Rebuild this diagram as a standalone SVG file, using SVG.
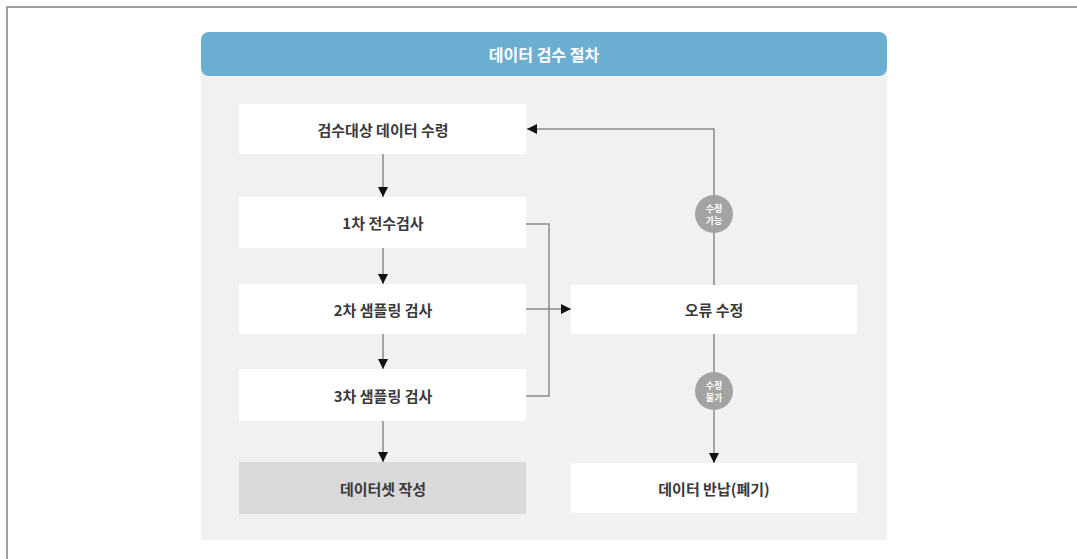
<svg xmlns="http://www.w3.org/2000/svg" width="1077" height="559" viewBox="0 0 1077 559">
<defs>
<marker id="ah" viewBox="0 0 10 10" refX="10" refY="5" markerWidth="10" markerHeight="10" markerUnits="userSpaceOnUse" orient="auto">
<path d="M0,0 L10,5 L0,10 z" fill="#111"/>
</marker>
</defs>
<style>
.box{fill:#ffffff;}
.boxg{fill:#d9d9d9;}
.lbl{font-family:"Noto Sans CJK KR","Noto Sans",sans-serif;font-size:15px;font-weight:bold;fill:#3a3a3a;text-anchor:middle;dominant-baseline:central;}
.ttl{font-family:"Noto Sans CJK KR","Noto Sans",sans-serif;font-size:16px;font-weight:bold;fill:#ffffff;text-anchor:middle;dominant-baseline:central;}
.ln{fill:none;stroke:#8a8a8a;stroke-width:1.5;}
.circ{fill:#a3a3a3;}
.ct{font-family:"Noto Sans CJK KR","Noto Sans",sans-serif;font-size:9px;font-weight:bold;fill:#ffffff;text-anchor:middle;dominant-baseline:central;}
</style>
<rect width="1077" height="559" fill="#ffffff"/>
<path d="M1078,7 L7,7 L7,560" fill="none" stroke="#a0a0a0" stroke-width="2"/>
<g id="panel">
<rect x="201" y="70" width="686" height="470" fill="#f1f1f1"/>
<rect x="201" y="32" width="686" height="44" rx="8" fill="#6aaed2"/>
<text class="ttl" x="544" y="54">데이터 검수 절차</text>
</g>
<g id="connectors">
<line class="ln" x1="383" y1="154" x2="383" y2="197" marker-end="url(#ah)"/>
<line class="ln" x1="383" y1="248" x2="383" y2="284" marker-end="url(#ah)"/>
<line class="ln" x1="383" y1="334" x2="383" y2="369" marker-end="url(#ah)"/>
<line class="ln" x1="383" y1="421" x2="383" y2="462" marker-end="url(#ah)"/>
<path class="ln" d="M526,224 L549,224 L549,396 L526,396"/>
<line class="ln" x1="526" y1="309" x2="571" y2="309" marker-end="url(#ah)"/>
<path class="ln" d="M714,285 L714,129 L527,129" marker-end="url(#ah)"/>
<line class="ln" x1="714" y1="334" x2="714" y2="463" marker-end="url(#ah)"/>
</g>
<g id="c1">
<circle class="circ" cx="714" cy="214" r="19"/>
<text class="ct" x="714" y="208">수정</text>
<text class="ct" x="714" y="220">가능</text>
</g>
<g id="c2">
<circle class="circ" cx="714" cy="391" r="19"/>
<text class="ct" x="714" y="385">수정</text>
<text class="ct" x="714" y="397">불가</text>
</g>
<g id="n1"><rect class="box" x="239" y="104" width="287" height="50"/><text class="lbl" x="383" y="129">검수대상 데이터 수령</text></g>
<g id="n2"><rect class="box" x="239" y="197" width="287" height="51"/><text class="lbl" x="383" y="222">1차 전수검사</text></g>
<g id="n3"><rect class="box" x="239" y="284" width="287" height="50"/><text class="lbl" x="383" y="309">2차 샘플링 검사</text></g>
<g id="n4"><rect class="box" x="239" y="369" width="287" height="52"/><text class="lbl" x="383" y="395">3차 샘플링 검사</text></g>
<g id="n5"><rect class="boxg" x="239" y="462" width="287" height="52"/><text class="lbl" x="383" y="488">데이터셋 작성</text></g>
<g id="n6"><rect class="box" x="571" y="285" width="286" height="49"/><text class="lbl" x="714" y="309">오류 수정</text></g>
<g id="n7"><rect class="box" x="571" y="463" width="286" height="50"/><text class="lbl" x="714" y="488">데이터 반납(폐기)</text></g>
</svg>
